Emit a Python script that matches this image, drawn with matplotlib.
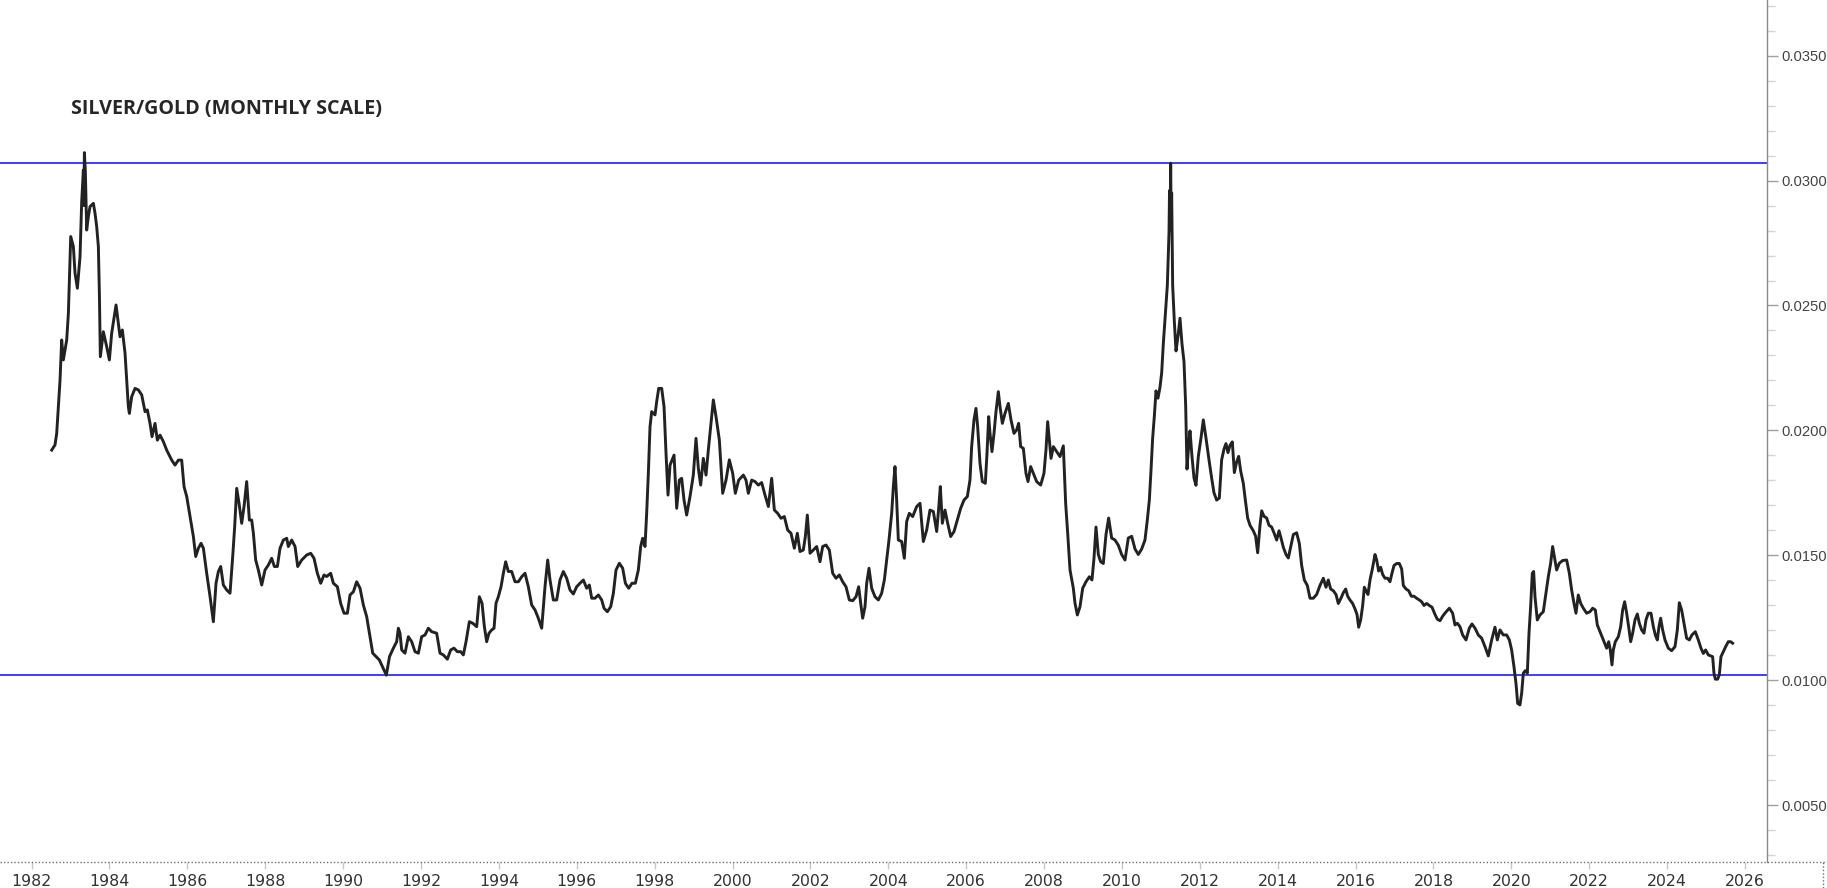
import matplotlib
matplotlib.use("Agg")
import matplotlib.pyplot as plt
from matplotlib.ticker import MultipleLocator
from matplotlib.lines import Line2D
import numpy as np

# ---------------------------------------------------------------------------
# Data: silver/gold ratio (decimal year, ratio)
# ---------------------------------------------------------------------------
seg_1982 = [
    (1982.516, 0.01921), (1982.601, 0.01942), (1982.644, 0.01988), (1982.687, 0.02095),
    (1982.730, 0.02202), (1982.772, 0.02362), (1982.815, 0.02282), (1982.901, 0.02362),
    (1982.944, 0.02469), (1983.004, 0.02776), (1983.072, 0.02736), (1983.115, 0.02629),
    (1983.175, 0.02569), (1983.243, 0.02695), (1983.286, 0.02916), (1983.329, 0.03042),
    (1983.340, 0.02900), (1983.355, 0.03112), (1983.380, 0.03036), (1983.414, 0.02802),
    (1983.457, 0.02856), (1983.500, 0.02896), (1983.586, 0.02909), (1983.628, 0.02869),
    (1983.671, 0.02816), (1983.714, 0.02736), (1983.740, 0.02549), (1983.765, 0.02295),
    (1983.842, 0.02395), (1983.928, 0.02335), (1983.997, 0.02282), (1984.056, 0.02389),
    (1984.168, 0.02502), (1984.270, 0.02375), (1984.330, 0.02402), (1984.399, 0.02309),
    (1984.442, 0.02202), (1984.484, 0.02095), (1984.510, 0.02068), (1984.570, 0.02135),
    (1984.656, 0.02168), (1984.741, 0.02162), (1984.827, 0.02142), (1984.913, 0.02075),
    (1984.972, 0.02082), (1985.041, 0.02028), (1985.092, 0.01975), (1985.169, 0.02028),
    (1985.229, 0.01961), (1985.298, 0.01981), (1985.383, 0.01955), (1985.469, 0.01921),
    (1985.597, 0.01881), (1985.683, 0.01861), (1985.769, 0.01881), (1985.854, 0.01881),
    (1985.914, 0.01775), (1985.983, 0.01735), (1986.068, 0.01655), (1986.154, 0.01575),
    (1986.214, 0.01495), (1986.282, 0.01528), (1986.351, 0.01548), (1986.411, 0.01528),
    (1986.496, 0.01428), (1986.582, 0.01335), (1986.667, 0.01234), (1986.736, 0.01388),
    (1986.796, 0.01435), (1986.856, 0.01455), (1986.924, 0.01381), (1987.010, 0.01361),
    (1987.095, 0.01348), (1987.164, 0.01495), (1987.215, 0.01615), (1987.267, 0.01768),
    (1987.327, 0.01708), (1987.395, 0.01628), (1987.455, 0.01695), (1987.523, 0.01795),
    (1987.592, 0.01641), (1987.652, 0.01641), (1987.695, 0.01588), (1987.754, 0.01481),
    (1987.823, 0.01441), (1987.909, 0.01381), (1987.994, 0.01441), (1988.080, 0.01461),
    (1988.165, 0.01488), (1988.234, 0.01455), (1988.311, 0.01455), (1988.379, 0.01528),
    (1988.465, 0.01561), (1988.551, 0.01568), (1988.593, 0.01535), (1988.679, 0.01561),
    (1988.765, 0.01535), (1988.833, 0.01455), (1988.936, 0.01481), (1989.064, 0.01501),
    (1989.167, 0.01508), (1989.252, 0.01488), (1989.338, 0.01428), (1989.424, 0.01388),
    (1989.509, 0.01421), (1989.578, 0.01415), (1989.680, 0.01428), (1989.749, 0.01388),
    (1989.852, 0.01374), (1989.937, 0.01307), (1990.023, 0.01268), (1990.109, 0.01268),
    (1990.177, 0.01341), (1990.263, 0.01354), (1990.348, 0.01394), (1990.434, 0.01368),
    (1990.519, 0.01301), (1990.605, 0.01254), (1990.691, 0.01174), (1990.760, 0.01108),
    (1990.930, 0.01081), (1991.110, 0.01020), (1991.190, 0.01094),
]

seg_1991 = [
    (1991.290, 0.01128), (1991.375, 0.01154), (1991.418, 0.01208), (1991.460, 0.01188),
    (1991.504, 0.01121), (1991.589, 0.01108), (1991.675, 0.01174), (1991.760, 0.01154),
    (1991.846, 0.01114), (1991.932, 0.01108), (1992.017, 0.01174), (1992.103, 0.01181),
    (1992.188, 0.01208), (1992.274, 0.01194), (1992.402, 0.01188), (1992.488, 0.01108),
    (1992.574, 0.01101), (1992.676, 0.01084), (1992.762, 0.01121), (1992.848, 0.01128),
    (1992.933, 0.01114), (1993.019, 0.01114), (1993.087, 0.01101), (1993.156, 0.01154),
    (1993.241, 0.01234), (1993.327, 0.01228), (1993.430, 0.01214), (1993.498, 0.01334),
    (1993.567, 0.01308), (1993.627, 0.01214), (1993.686, 0.01154), (1993.746, 0.01188),
    (1993.815, 0.01201), (1993.875, 0.01208), (1993.926, 0.01308), (1993.986, 0.01334),
    (1994.055, 0.01374), (1994.115, 0.01428), (1994.174, 0.01474), (1994.243, 0.01435),
    (1994.328, 0.01435), (1994.414, 0.01394), (1994.500, 0.01394), (1994.585, 0.01414),
    (1994.671, 0.01428), (1994.756, 0.01374), (1994.842, 0.01301), (1994.928, 0.01281),
    (1995.013, 0.01248), (1995.099, 0.01208), (1995.184, 0.01374), (1995.253, 0.01481),
    (1995.313, 0.01401), (1995.398, 0.01321), (1995.484, 0.01321), (1995.569, 0.01401),
    (1995.655, 0.01435), (1995.741, 0.01408), (1995.826, 0.01361), (1995.912, 0.01345),
    (1995.997, 0.01374), (1996.083, 0.01388), (1996.169, 0.01401), (1996.254, 0.01368),
    (1996.323, 0.01381), (1996.383, 0.01328), (1996.468, 0.01328), (1996.554, 0.01341),
    (1996.640, 0.01321), (1996.700, 0.01288), (1996.785, 0.01274), (1996.871, 0.01294),
    (1996.940, 0.01348), (1997.008, 0.01441), (1997.094, 0.01468), (1997.179, 0.01448),
    (1997.248, 0.01388), (1997.333, 0.01368), (1997.419, 0.01388), (1997.504, 0.01388),
    (1997.581, 0.01441), (1997.641, 0.01535), (1997.692, 0.01568), (1997.752, 0.01535),
    (1997.795, 0.01668), (1997.838, 0.01828), (1997.881, 0.02015), (1997.924, 0.02075),
    (1998.009, 0.02062), (1998.052, 0.02115), (1998.104, 0.02168), (1998.181, 0.02168),
    (1998.241, 0.02095), (1998.292, 0.01908), (1998.343, 0.01741), (1998.395, 0.01861),
    (1998.498, 0.01901), (1998.566, 0.01688), (1998.634, 0.01801), (1998.694, 0.01808),
    (1998.754, 0.01721), (1998.822, 0.01661), (1998.908, 0.01735), (1998.993, 0.01821),
    (1999.062, 0.01968), (1999.122, 0.01848), (1999.182, 0.01781), (1999.250, 0.01888),
    (1999.319, 0.01821), (1999.379, 0.01922), (1999.439, 0.02015), (1999.507, 0.02122),
    (1999.576, 0.02055), (1999.661, 0.01962), (1999.747, 0.01748), (1999.833, 0.01801),
    (1999.918, 0.01882), (2000.004, 0.01828), (2000.072, 0.01748), (2000.158, 0.01801),
]

seg_2000 = [
    (2000.278, 0.01821), (2000.346, 0.01801), (2000.406, 0.01748), (2000.492, 0.01801),
    (2000.577, 0.01795), (2000.663, 0.01781), (2000.748, 0.01791), (2000.834, 0.01741),
    (2000.920, 0.01695), (2001.005, 0.01808), (2001.074, 0.01681), (2001.159, 0.01668),
    (2001.245, 0.01648), (2001.330, 0.01655), (2001.416, 0.01601), (2001.502, 0.01588),
    (2001.587, 0.01528), (2001.664, 0.01588), (2001.733, 0.01515), (2001.818, 0.01521),
    (2001.870, 0.01575), (2001.921, 0.01661), (2001.990, 0.01508), (2002.075, 0.01521),
    (2002.161, 0.01535), (2002.246, 0.01474), (2002.315, 0.01535), (2002.400, 0.01541),
    (2002.486, 0.01521), (2002.572, 0.01428), (2002.657, 0.01408), (2002.743, 0.01421),
    (2002.828, 0.01394), (2002.914, 0.01374), (2003.000, 0.01321), (2003.085, 0.01318),
    (2003.171, 0.01334), (2003.239, 0.01374), (2003.291, 0.01308), (2003.342, 0.01248),
    (2003.402, 0.01294), (2003.445, 0.01388), (2003.505, 0.01448), (2003.573, 0.01368),
    (2003.659, 0.01334), (2003.745, 0.01321), (2003.830, 0.01348), (2003.899, 0.01401),
    (2003.959, 0.01481), (2004.018, 0.01561), (2004.087, 0.01668), (2004.130, 0.01775),
    (2004.172, 0.01855), (2004.215, 0.01721), (2004.258, 0.01561), (2004.344, 0.01555),
    (2004.412, 0.01488), (2004.472, 0.01635), (2004.540, 0.01668), (2004.626, 0.01655),
    (2004.729, 0.01695), (2004.815, 0.01708), (2004.900, 0.01555), (2004.986, 0.01601),
    (2005.071, 0.01681), (2005.157, 0.01675), (2005.243, 0.01595), (2005.294, 0.01688),
    (2005.336, 0.01775), (2005.388, 0.01628), (2005.456, 0.01681), (2005.525, 0.01628),
    (2005.602, 0.01575), (2005.688, 0.01595), (2005.773, 0.01641), (2005.859, 0.01688),
    (2005.944, 0.01721), (2006.030, 0.01735), (2006.098, 0.01801), (2006.141, 0.01935),
    (2006.201, 0.02042), (2006.252, 0.02088), (2006.295, 0.02015), (2006.355, 0.01868),
    (2006.415, 0.01795), (2006.492, 0.01788), (2006.535, 0.01908), (2006.578, 0.02055),
    (2006.612, 0.01988), (2006.663, 0.01915), (2006.715, 0.01988), (2006.766, 0.02075),
    (2006.826, 0.02155), (2006.869, 0.02095), (2006.929, 0.02028), (2006.997, 0.02068),
    (2007.083, 0.02108), (2007.151, 0.02042), (2007.228, 0.01988), (2007.296, 0.02002),
    (2007.348, 0.02028), (2007.399, 0.01935), (2007.468, 0.01928), (2007.536, 0.01828),
    (2007.588, 0.01795), (2007.656, 0.01855), (2007.724, 0.01828), (2007.810, 0.01795),
    (2007.913, 0.01781), (2007.998, 0.01828), (2008.050, 0.01922), (2008.093, 0.02035),
    (2008.135, 0.01962), (2008.179, 0.01888), (2008.239, 0.01935), (2008.324, 0.01915),
    (2008.410, 0.01895), (2008.495, 0.01938), (2008.555, 0.01708), (2008.607, 0.01588),
    (2008.667, 0.01441), (2008.752, 0.01368), (2008.795, 0.01308), (2008.855, 0.01261),
    (2008.923, 0.01294), (2008.992, 0.01368), (2009.077, 0.01394), (2009.163, 0.01414),
    (2009.231, 0.01401),
]

seg_2009 = [
    (2009.283, 0.01489), (2009.334, 0.01613), (2009.394, 0.01503), (2009.454, 0.01474),
    (2009.522, 0.01467), (2009.591, 0.01583), (2009.659, 0.01649), (2009.736, 0.01569),
    (2009.822, 0.01561), (2009.908, 0.01540), (2009.993, 0.01503), (2010.079, 0.01481),
    (2010.164, 0.01569), (2010.250, 0.01576), (2010.336, 0.01525), (2010.421, 0.01503),
    (2010.507, 0.01525), (2010.592, 0.01561), (2010.652, 0.01641), (2010.704, 0.01721),
    (2010.746, 0.01838), (2010.789, 0.01969), (2010.832, 0.02056), (2010.875, 0.02158),
    (2010.926, 0.02129), (2010.978, 0.02173), (2011.021, 0.02231), (2011.063, 0.02347),
    (2011.114, 0.02464), (2011.166, 0.02580), (2011.209, 0.02791), (2011.222, 0.02960),
    (2011.234, 0.02800), (2011.252, 0.03070), (2011.265, 0.02820), (2011.277, 0.02950),
    (2011.303, 0.02580), (2011.346, 0.02435), (2011.389, 0.02318), (2011.440, 0.02377),
    (2011.491, 0.02449), (2011.542, 0.02347), (2011.594, 0.02275), (2011.637, 0.02100),
    (2011.671, 0.01845), (2011.714, 0.01940), (2011.748, 0.01998), (2011.799, 0.01896),
    (2011.851, 0.01809), (2011.902, 0.01780), (2011.962, 0.01896), (2012.030, 0.01969),
    (2012.090, 0.02042), (2012.159, 0.01969), (2012.236, 0.01882), (2012.304, 0.01809),
    (2012.364, 0.01750), (2012.433, 0.01721), (2012.501, 0.01729), (2012.561, 0.01882),
    (2012.621, 0.01925), (2012.672, 0.01947), (2012.724, 0.01911), (2012.775, 0.01940),
    (2012.835, 0.01954), (2012.887, 0.01831), (2012.946, 0.01874), (2012.998, 0.01896),
    (2013.049, 0.01838), (2013.118, 0.01787), (2013.169, 0.01721), (2013.229, 0.01649),
    (2013.289, 0.01620), (2013.374, 0.01598), (2013.434, 0.01576), (2013.486, 0.01510),
    (2013.546, 0.01620), (2013.589, 0.01678), (2013.648, 0.01656), (2013.717, 0.01649),
    (2013.777, 0.01620), (2013.845, 0.01613), (2013.905, 0.01590), (2013.974, 0.01561),
    (2014.034, 0.01598), (2014.085, 0.01569), (2014.145, 0.01532), (2014.213, 0.01503),
    (2014.273, 0.01489), (2014.342, 0.01540), (2014.402, 0.01583), (2014.487, 0.01590),
    (2014.556, 0.01547), (2014.616, 0.01459), (2014.684, 0.01401), (2014.761, 0.01379),
    (2014.830, 0.01328), (2014.915, 0.01328), (2015.001, 0.01343), (2015.086, 0.01379),
    (2015.172, 0.01408), (2015.240, 0.01372), (2015.300, 0.01401), (2015.360, 0.01365),
    (2015.429, 0.01358), (2015.497, 0.01343), (2015.557, 0.01307), (2015.625, 0.01328),
    (2015.686, 0.01350), (2015.746, 0.01365), (2015.797, 0.01336), (2015.857, 0.01321),
    (2015.925, 0.01307), (2015.986, 0.01285), (2016.037, 0.01263), (2016.080, 0.01212),
    (2016.131, 0.01241), (2016.183, 0.01299), (2016.225, 0.01372), (2016.268, 0.01358),
    (2016.319, 0.01343), (2016.371, 0.01401), (2016.431, 0.01445), (2016.499, 0.01503),
    (2016.542, 0.01481), (2016.593, 0.01437), (2016.645, 0.01452), (2016.696, 0.01423),
    (2016.756, 0.01408), (2016.824, 0.01408), (2016.884, 0.01394), (2016.927, 0.01423),
    (2016.987, 0.01459), (2017.056, 0.01467), (2017.124, 0.01467), (2017.184, 0.01445),
    (2017.227, 0.01379), (2017.295, 0.01365), (2017.364, 0.01358), (2017.432, 0.01336),
    (2017.500, 0.01336), (2017.569, 0.01328), (2017.637, 0.01321), (2017.697, 0.01314),
    (2017.757, 0.01299), (2017.826, 0.01307), (2017.894, 0.01299), (2017.963, 0.01292),
    (2018.040, 0.01263), (2018.100, 0.01244), (2018.168, 0.01238), (2018.237, 0.01256),
    (2018.305, 0.01270),
]

seg_2018 = [
    (2018.408, 0.01288), (2018.493, 0.01268), (2018.553, 0.01221), (2018.613, 0.01228),
    (2018.682, 0.01214), (2018.750, 0.01181), (2018.836, 0.01161), (2018.921, 0.01208),
    (2018.990, 0.01225), (2019.067, 0.01208), (2019.152, 0.01181), (2019.238, 0.01168),
    (2019.324, 0.01134), (2019.409, 0.01097), (2019.495, 0.01161), (2019.580, 0.01212),
    (2019.640, 0.01161), (2019.709, 0.01201), (2019.794, 0.01181), (2019.880, 0.01181),
    (2019.949, 0.01161), (2020.008, 0.01121), (2020.068, 0.01054), (2020.120, 0.00987),
    (2020.163, 0.00907), (2020.222, 0.00901), (2020.265, 0.00947), (2020.308, 0.01028),
    (2020.359, 0.01038), (2020.411, 0.01028), (2020.454, 0.01188), (2020.496, 0.01294),
    (2020.539, 0.01428), (2020.573, 0.01435), (2020.608, 0.01334), (2020.667, 0.01241),
    (2020.736, 0.01261), (2020.821, 0.01274), (2020.890, 0.01348), (2020.950, 0.01414),
    (2021.010, 0.01468), (2021.061, 0.01535), (2021.121, 0.01481), (2021.164, 0.01441),
    (2021.232, 0.01468), (2021.318, 0.01479), (2021.421, 0.01481), (2021.490, 0.01428),
    (2021.549, 0.01361), (2021.609, 0.01308), (2021.660, 0.01268), (2021.720, 0.01341),
    (2021.780, 0.01308), (2021.849, 0.01288), (2021.934, 0.01268), (2022.020, 0.01274),
    (2022.089, 0.01288), (2022.157, 0.01281), (2022.208, 0.01221), (2022.277, 0.01194),
    (2022.363, 0.01161), (2022.448, 0.01128), (2022.500, 0.01154), (2022.542, 0.01121),
    (2022.585, 0.01061), (2022.619, 0.01121), (2022.671, 0.01154), (2022.748, 0.01174),
    (2022.808, 0.01214), (2022.859, 0.01281), (2022.910, 0.01314), (2022.962, 0.01268),
    (2023.013, 0.01214), (2023.065, 0.01154), (2023.116, 0.01188), (2023.176, 0.01241),
    (2023.236, 0.01265), (2023.287, 0.01228), (2023.347, 0.01201), (2023.407, 0.01188),
    (2023.458, 0.01241), (2023.518, 0.01268), (2023.587, 0.01268), (2023.647, 0.01214),
    (2023.698, 0.01181), (2023.749, 0.01161), (2023.792, 0.01214), (2023.835, 0.01248),
    (2023.886, 0.01201), (2023.946, 0.01161), (2024.032, 0.01128), (2024.117, 0.01118),
    (2024.203, 0.01134), (2024.263, 0.01201), (2024.314, 0.01310), (2024.374, 0.01281),
    (2024.434, 0.01228), (2024.502, 0.01168), (2024.571, 0.01161), (2024.639, 0.01181),
    (2024.725, 0.01194), (2024.802, 0.01161), (2024.870, 0.01128), (2024.931, 0.01107),
    (2024.990, 0.01121), (2025.059, 0.01101), (2025.119, 0.01097), (2025.170, 0.01094),
    (2025.204, 0.01028), (2025.239, 0.01004), (2025.298, 0.01004), (2025.341, 0.01021),
    (2025.384, 0.01094), (2025.444, 0.01114), (2025.504, 0.01134), (2025.572, 0.01154),
    (2025.632, 0.01154), (2025.683, 0.01148),
]

resistance = 0.0307   # upper blue line
support = 0.0102      # lower blue line

x_ticks = [1982, 1984, 1986, 1988, 1990, 1992, 1994, 1996, 1998, 2000, 2002,
           2004, 2006, 2008, 2010, 2012, 2014, 2016, 2018, 2020, 2022, 2024, 2026]
y_ticks = [0.0050, 0.0100, 0.0150, 0.0200, 0.0250, 0.0300, 0.0350]

title = "SILVER/GOLD (MONTHLY SCALE)"

# ---------------------------------------------------------------------------
series = seg_1982 + seg_1991 + seg_2000 + seg_2009 + seg_2018
years = np.array([p[0] for p in series])
ratio = np.array([p[1] for p in series])

W, H = 1827, 888
fig = plt.figure(figsize=(W / 100, H / 100), dpi=100)
fig.patch.set_facecolor("white")

ax_bottom = 26
ax_right = 1767
ax = fig.add_axes([0, ax_bottom / H, ax_right / W, (H - ax_bottom) / H])

ax.axhline(resistance, color="#1c1cff", linewidth=1.2, zorder=2)
ax.axhline(support, color="#1c1cff", linewidth=1.2, zorder=2)
ax.plot(years, ratio, color="#222222", linewidth=2.1, zorder=3)

ax.set_xlim(1981.188, 2026.566)
ax.set_ylim(0.00272, 0.03723)

# axes frame: only the right spine is solid
for side in ["top", "left", "bottom"]:
    ax.spines[side].set_visible(False)
ax.spines["right"].set_color("#8a8a8a")
ax.spines["right"].set_linewidth(1.0)

ax.yaxis.tick_right()
ax.set_yticks(y_ticks)
ax.set_yticklabels([f"{v:.4f}" for v in y_ticks])
ax.yaxis.set_minor_locator(MultipleLocator(0.001))
ax.tick_params(axis="y", which="major", length=8, width=1, color="#a0a0a0",
               labelsize=10.6, labelcolor="#444444", pad=2)
ax.tick_params(axis="y", which="minor", length=6, width=1, color="#d4d4d4")
for lbl in ax.get_yticklabels():
    lbl.set_family(["Liberation Sans", "DejaVu Sans"])

ax.set_xticks(x_ticks)
ax.set_xticklabels([str(y) for y in x_ticks])
ax.tick_params(axis="x", which="major", length=5, width=1, color="#c8c8c8",
               labelsize=11.3, labelcolor="#333333", pad=3.5)
for lbl in ax.get_xticklabels():
    lbl.set_family(["Liberation Sans Narrow", "DejaVu Sans"])

# dotted border of the time axis strip
fig.add_artist(Line2D([0, 1], [ax_bottom / H, ax_bottom / H], transform=fig.transFigure,
                      color="#707070", linewidth=1.0, linestyle=(0, (1, 1.5))))
fig.add_artist(Line2D([1823 / W, 1823 / W], [0, ax_bottom / H], transform=fig.transFigure,
                      color="#707070", linewidth=1.0, linestyle=(0, (1, 1.5))))

fig.text(71 / W, 1 - 109 / H, title, fontsize=14.2, fontweight="bold",
         family=["Open Sans", "DejaVu Sans"], color="#262626", ha="left", va="center")

fig.savefig("out.png", dpi=100, facecolor="white")
